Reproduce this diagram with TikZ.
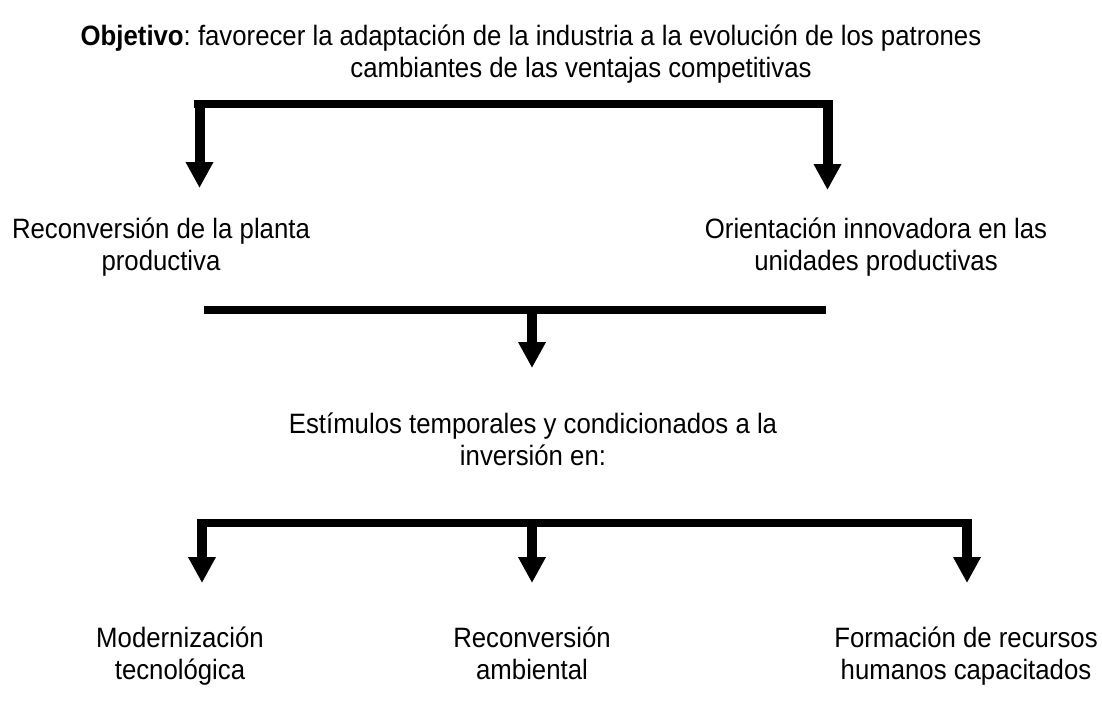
\documentclass[tikz,border=0pt]{standalone}
\usepackage{fontspec}
\setmainfont{Liberation Sans}[FakeStretch=0.92]
\usetikzlibrary{arrows.meta}
\begin{document}
\frenchspacing
\begin{tikzpicture}[x=1pt,y=-1pt,
  txt/.style={font=\fontsize{28}{32}\selectfont\frenchspacing, align=center, inner sep=0pt, anchor=base},
  bar/.style={line width=8pt},
  arr/.style={line width=10pt, -{Triangle[width=26pt,length=26pt]}}]
\useasboundingbox (0,0) rectangle (1102,705);
% texts (anchor = baseline of last line)
\node[txt] (obj) at (556,77) {\hspace*{-50pt}\textbf{Objetivo}: favorecer la adaptación de la industria a la evolución de los patrones\\\hspace*{50pt}cambiantes de las ventajas competitivas};
\node[txt] (rec) at (161,270) {Reconversión de la planta\\productiva};
\node[txt] (ori) at (876,270) {Orientación innovadora en las\\unidades productivas};
\node[txt] (est) at (533,465) {Estímulos temporales y condicionados a la\\inversión en:};
\node[txt] (mod) at (180,679) {Modernización\\tecnológica};
\node[txt] (amb) at (532,679) {Reconversión\\ambiental};
\node[txt] (for) at (966,679) {Formación de recursos\\humanos capacitados};
% coordinates
\coordinate (t1) at (194,104);
\coordinate (t2) at (832,104);
\coordinate (ta) at (199.5,100);
\coordinate (taE) at (199.5,188);
\coordinate (tb) at (827.5,100);
\coordinate (tbE) at (827.5,190);
\coordinate (m1) at (204,310);
\coordinate (m2) at (826,310);
\coordinate (ma) at (532,306);
\coordinate (maE) at (532,368);
\coordinate (b1) at (198,523);
\coordinate (b2) at (968,523);
\coordinate (ba) at (202,519);
\coordinate (baE) at (202,583);
\coordinate (bb) at (532,519);
\coordinate (bbE) at (532,583);
\coordinate (bc) at (967,519);
\coordinate (bcE) at (967,583);
% connectors
\draw[bar] (t1) -- (t2);
\draw[arr] (ta) -- (taE);
\draw[arr] (tb) -- (tbE);
\draw[bar] (m1) -- (m2);
\draw[arr] (ma) -- (maE);
\draw[bar] (b1) -- (b2);
\draw[arr] (ba) -- (baE);
\draw[arr] (bb) -- (bbE);
\draw[arr] (bc) -- (bcE);
\end{tikzpicture}
\end{document}
